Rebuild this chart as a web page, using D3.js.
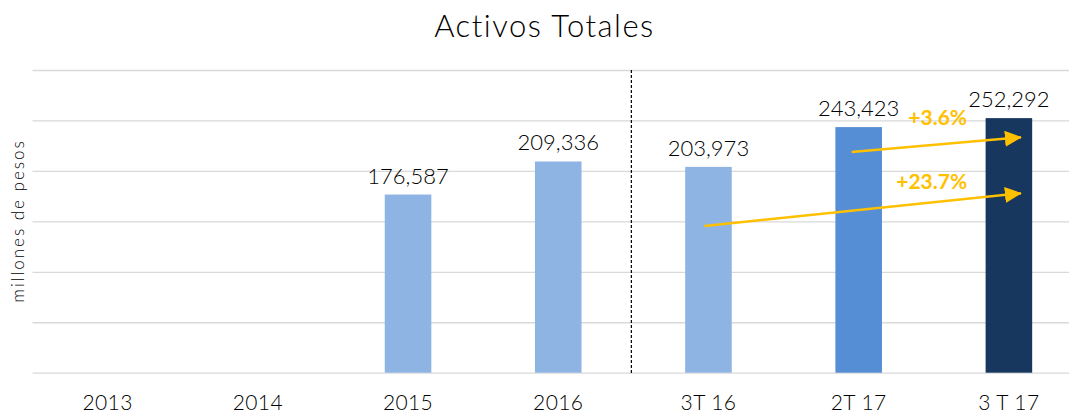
<!DOCTYPE html>
<html>
<head>
<meta charset="utf-8">
<script src="https://cdn.jsdelivr.net/npm/d3@7"></script>
<style>
  body { margin: 0; background: #fff; }
  #chart { width: 1069px; height: 417px; }
  text { font-family: "Century Gothic", Lato, sans-serif; }
</style>
</head>
<body>
<div id="chart"></div>
<script>
var categories = ["2013", "2014", "2015", "2016", "3T 16", "2T 17", "3 T 17"];
var values = [null, null, 176587, 209336, 203973, 243423, 252292];
var yTicks = [0, 50000, 100000, 150000, 200000, 250000, 300000];
var growth = [
  { label: "+3.6%", from: "2T 17", to: "3 T 17" },
  { label: "+23.7%", from: "3T 16", to: "3 T 17" }
];

var container = d3.select("#chart");
var width = 1069, height = 417;

var svg = container.append("svg")
  .attr("width", width)
  .attr("height", height);

var x = d3.scaleBand()
  .domain(categories)
  .range([32.5, 1084])
  .paddingInner(0.69)
  .paddingOuter(0.345);

var y = d3.scaleLinear()
  .domain([0, 300000])
  .range([372.7, 70]);

var colors = { "2T 17": "#558ED5", "3 T 17": "#17375E" };
function barColor(c) { return colors[c] || "#8EB4E3"; }

// gridlines
var grid = svg.append("g")
  .attr("transform", "translate(32.5,0)")
  .call(d3.axisLeft(y).tickValues(yTicks).tickSize(-(width - 32.5)).tickFormat(() => ""));
grid.select(".domain").remove();
grid.selectAll(".tick line")
  .attr("stroke", "#D9D9D9")
  .attr("stroke-width", 1.3);

// category axis
var xa = svg.append("g")
  .attr("transform", "translate(0,372.7)")
  .call(d3.axisBottom(x).tickSize(0).tickPadding(22));
xa.select(".domain").remove();
xa.selectAll("text")
  .attr("font-size", 21)
  .attr("fill", "#000")
  .attr("font-weight", 300)
  .attr("letter-spacing", 0.4)
  .style("font-family", "\"Century Gothic\", Lato, sans-serif");

var data = categories.map((c, i) => ({ c: c, v: values[i] })).filter(d => d.v != null);

svg.selectAll("rect.bar")
  .data(data)
  .enter().append("rect")
  .attr("class", "bar")
  .attr("x", d => x(d.c))
  .attr("width", x.bandwidth())
  .attr("y", d => y(d.v))
  .attr("height", d => y(0) - y(d.v))
  .attr("fill", d => barColor(d.c));

svg.selectAll("text.val")
  .data(data)
  .enter().append("text")
  .attr("class", "val")
  .attr("x", d => x(d.c) + x.bandwidth() / 2)
  .attr("y", d => y(d.v) - 11)
  .attr("text-anchor", "middle")
  .attr("font-size", 22)
  .attr("font-weight", 300)
  .attr("fill", "#000")
  .text(d => d3.format(",")(d.v));

// separator between years and quarters
var sepX = (x("2016") + x("3T 16")) / 2 + x.bandwidth() / 2 - 2;
svg.append("line")
  .attr("x1", sepX).attr("x2", sepX)
  .attr("y1", y(300000)).attr("y2", y(0) + 2)
  .attr("stroke", "#000")
  .attr("stroke-width", 1.2)
  .attr("stroke-dasharray", "3,2");

// title + axis label
svg.append("text")
  .attr("x", 544.5).attr("y", 37)
  .attr("text-anchor", "middle")
  .attr("font-size", 31)
  .attr("font-weight", 300)
  .attr("letter-spacing", 1.5)
  .attr("fill", "#000")
  .text("Activos Totales");

svg.append("text")
  .attr("transform", "translate(24,221) rotate(-90)")
  .attr("text-anchor", "middle")
  .attr("font-size", 17)
  .attr("font-weight", 300)
  .attr("letter-spacing", 2)
  .attr("fill", "#000")
  .text("millones de pesos");

// growth arrows
svg.append("defs").append("marker")
  .attr("id", "head")
  .attr("markerUnits", "userSpaceOnUse")
  .attr("markerWidth", 18).attr("markerHeight", 16)
  .attr("refX", 16).attr("refY", 8)
  .attr("orient", "auto")
  .append("path")
  .attr("d", "M0,0 L17,8 L0,16 Z")
  .attr("fill", "#FFC000");

var cx = c => x(c) + x.bandwidth() / 2;
// arrow ends in value units, offsets in px from bar centres
var arrowPos = [
  { x1: -7, v1: 218700, x2: 12, v2: 233300, tx: 79, tv: 245500 },
  { x1: -4, v1: 145400, x2: 12, v2: 177800, tx: 73, tv: 182400 }
];

growth.forEach(function (g, i) {
  var p = arrowPos[i];
  svg.append("line")
    .attr("x1", cx(g.from) + p.x1).attr("y1", y(p.v1))
    .attr("x2", cx(g.to) + p.x2).attr("y2", y(p.v2))
    .attr("stroke", "#FFC000")
    .attr("stroke-width", 2.5)
    .attr("marker-end", "url(#head)");
  svg.append("text")
    .attr("x", cx("2T 17") + p.tx).attr("y", y(p.tv))
    .attr("text-anchor", "middle")
    .attr("font-size", 21)
    .attr("font-weight", "bold")
    .attr("fill", "#FFC000")
    .text(g.label);
});
</script>
</body>
</html>
